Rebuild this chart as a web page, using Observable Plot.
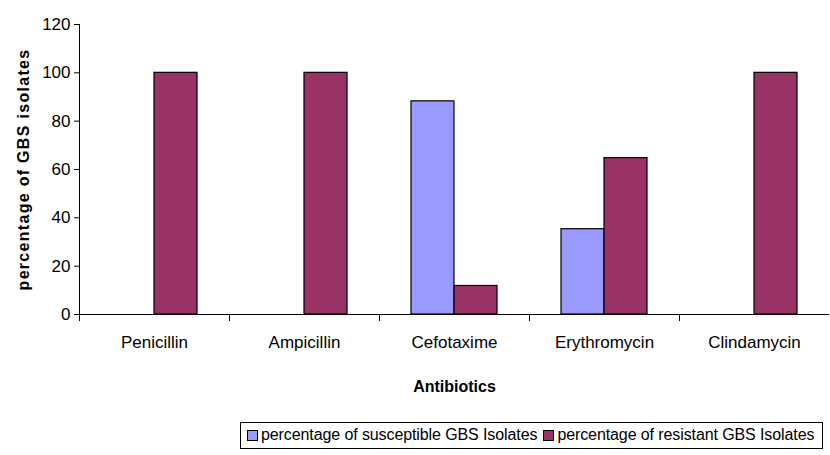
<!DOCTYPE html>
<html>
<head>
<meta charset="utf-8">
<script src="https://cdn.jsdelivr.net/npm/d3@7"></script>
<script src="https://cdn.jsdelivr.net/npm/@observablehq/plot@0.6"></script>
<style>
  body { margin: 0; background: #fff; font-family: "Liberation Sans", Arial, sans-serif; }
  #chart svg { display: block; }
  [aria-label="y-axis label"] { font-weight: bold; font-size: 16px; letter-spacing: 1.3px; }
  [aria-label="fx-axis label"] { font-weight: bold; font-size: 16px; }
  .legend { margin: 4px 0 0 240px; display: inline-flex; align-items: center; border: 1px solid #000; padding: 3px 4px 4px 4px; font-size: 16px; letter-spacing: -0.1px; color: #000; white-space: nowrap; }
  .legend .sw { display: inline-block; width: 9px; height: 9px; border: 1px solid #000; margin: 0 3px 0 2px; }
  .legend .item { display: inline-flex; align-items: center; margin-right: 4px; }
</style>
</head>
<body>
<div id="chart"></div>
<script>
const antibiotics = ["Penicillin", "Ampicillin", "Cefotaxime", "Erythromycin", "Clindamycin"];
const seriesNames = ["percentage of susceptible GBS Isolates", "percentage of resistant GBS Isolates"];
const susceptible = [0, 0, 88.2, 35.3, 0];
const resistant = [100, 100, 11.8, 64.7, 100];
const seriesColors = ["#9999FF", "#993366"];
const yTicks = [0, 20, 40, 60, 80, 100, 120];

const data = [];
antibiotics.forEach((a, i) => {
  data.push({antibiotic: a, series: seriesNames[0], value: susceptible[i]});
  data.push({antibiotic: a, series: seriesNames[1], value: resistant[i]});
});

const chart = Plot.plot({
  width: 830,
  height: 418,
  marginLeft: 77,
  marginRight: 0,
  marginTop: 24,
  marginBottom: 104,
  style: {fontFamily: "'Liberation Sans', Arial, sans-serif", color: "#000", background: "#fff"},
  fx: {domain: antibiotics, padding: 0, label: "Antibiotics"},
  x: {domain: seriesNames, paddingInner: 0, paddingOuter: 0.74, axis: null},
  y: {domain: [0, 120], label: "percentage of GBS isolates"},
  color: {domain: seriesNames, range: seriesColors},
  marks: [
    Plot.barY(data, {fx: "antibiotic", x: "series", y: "value", fill: "series", stroke: "#000", strokeWidth: 1.2}),
    Plot.ruleY([0], {stroke: "#000", strokeWidth: 1}),
    Plot.frame({anchor: "left", facetAnchor: "left", stroke: "#000", insetBottom: -6}),
    Plot.frame({anchor: "left", stroke: "#000", insetTop: 290, insetBottom: -6}),
    Plot.axisY(yTicks, {anchor: "left", tickSize: 5, tickPadding: 4, fontSize: 17, label: "percentage of GBS isolates", labelAnchor: "center", labelArrow: "none", labelOffset: 62}),
    Plot.axisFx({anchor: "bottom", tickSize: 0, tickPadding: 21, fontSize: 17, label: "Antibiotics", labelAnchor: "center", labelArrow: "none", labelOffset: 77})
  ]
});
document.getElementById("chart").appendChild(chart);

const legend = document.createElement("div");
legend.className = "legend";
seriesNames.forEach((s, i) => {
  const item = document.createElement("span");
  item.className = "item";
  const sw = document.createElement("span");
  sw.className = "sw";
  sw.style.background = seriesColors[i];
  item.appendChild(sw);
  item.appendChild(document.createTextNode(s));
  legend.appendChild(item);
});
document.body.appendChild(legend);
</script>
</body>
</html>
